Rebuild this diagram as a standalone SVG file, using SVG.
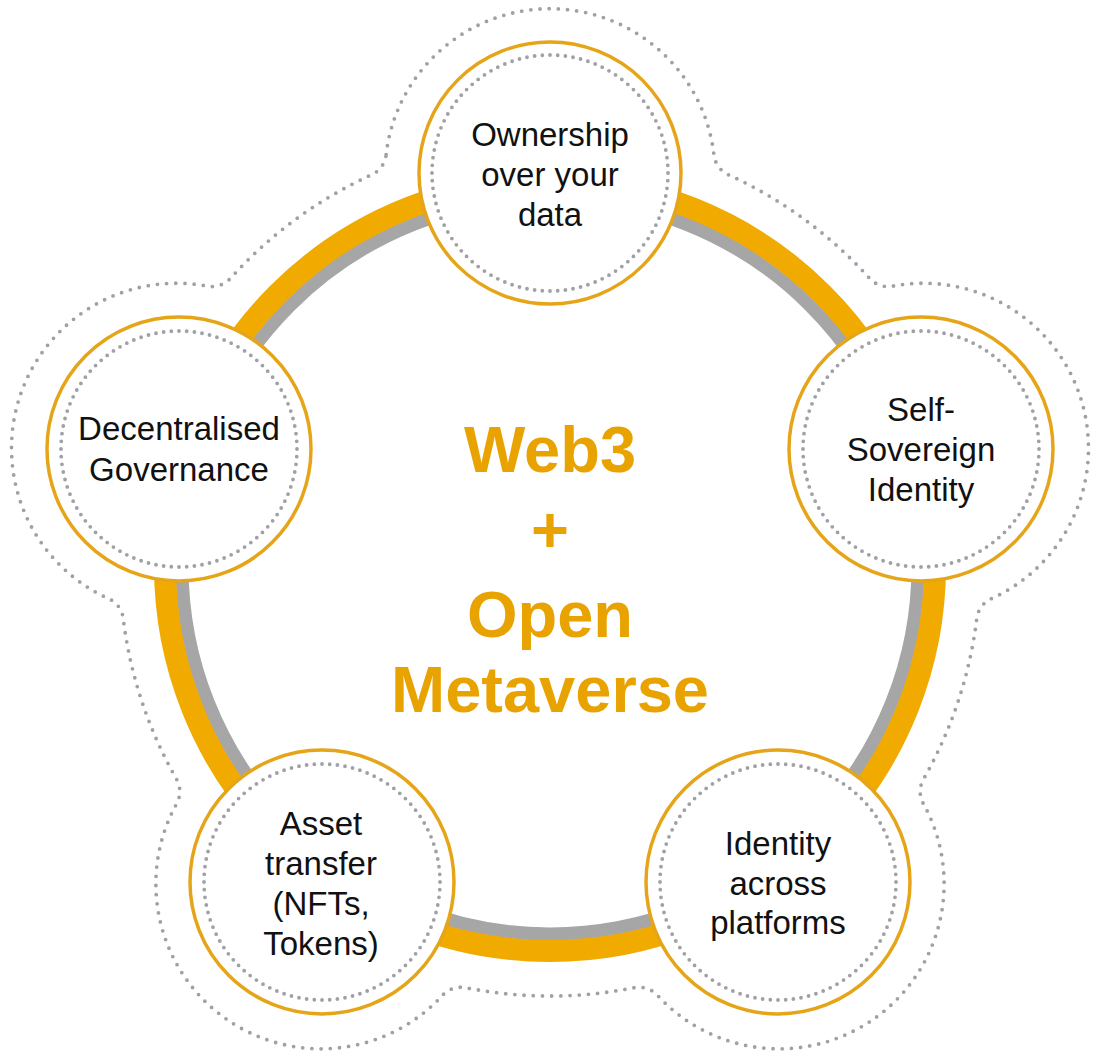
<svg xmlns="http://www.w3.org/2000/svg" width="1100" height="1058" viewBox="0 0 1100 1058">
<style>
.dots{fill:none;stroke:#A0A0A8;stroke-width:3.8;stroke-linecap:round;}
.node{fill:#FFFFFF;stroke:#E6A519;stroke-width:3.5;}
.lbl{font-family:"Liberation Sans",Arial,sans-serif;font-size:33px;fill:#111111;text-anchor:middle;}
.title{font-family:"Liberation Sans",Arial,sans-serif;font-size:65px;font-weight:bold;fill:#E9A300;text-anchor:middle;}
</style>
<rect width="1100" height="1058" fill="#FFFFFF"/>
<g id="outline">
<path class="dots" stroke-dasharray="0 9.2" d="M386.1 154.7 A165 165 0 0 1 713.9 154.7 A25 25 0 0 0 728.3 174.7 A430 430 0 0 1 869.5 278.3 A25 25 0 0 0 892.4 286.2 A165 165 0 0 1 991.0 598.8 A25 25 0 0 0 976.8 618.4 A430 430 0 0 1 923.5 779.1 A25 25 0 0 0 923.2 803.4 A165 165 0 0 1 657.3 995.1 A25 25 0 0 0 634.2 987.7 A430 430 0 0 1 465.8 987.7 A25 25 0 0 0 442.7 995.1 A165 165 0 0 1 176.8 803.4 A25 25 0 0 0 176.5 779.1 A430 430 0 0 1 123.2 618.4 A25 25 0 0 0 109.0 598.8 A165 165 0 0 1 207.6 286.2 A25 25 0 0 0 230.5 278.3 A430 430 0 0 1 371.7 174.7 A25 25 0 0 0 386.1 154.7 Z"/>
</g>
<g id="connectors">
<circle cx="550" cy="566" r="368" fill="none" stroke="#A6A6A6" stroke-width="13"/>
<circle cx="550" cy="566" r="385" fill="none" stroke="#F0AA00" stroke-width="22"/>
</g>
<g id="center">
<text class="title" x="550" y="472">Web3</text>
<text class="title" x="550" y="552">+</text>
<text class="title" x="550" y="637">Open</text>
<text class="title" x="550" y="712">Metaverse</text>
</g>
<g id="node-ownership">
<circle class="node" cx="550" cy="173" r="131"/>
<circle class="dots" cx="550" cy="173" r="118" pathLength="96" stroke-dasharray="0 1"/>
<text class="lbl" x="550" y="146">Ownership</text>
<text class="lbl" x="550" y="186">over your</text>
<text class="lbl" x="550" y="226">data</text>
</g>
<g id="node-ssi">
<circle class="node" cx="921" cy="449" r="132"/>
<circle class="dots" cx="921" cy="449" r="118" pathLength="96" stroke-dasharray="0 1"/>
<text class="lbl" x="921" y="421">Self-</text>
<text class="lbl" x="921" y="461">Sovereign</text>
<text class="lbl" x="921" y="501">Identity</text>
</g>
<g id="node-identity">
<circle class="node" cx="778" cy="882" r="132"/>
<circle class="dots" cx="778" cy="882" r="118" pathLength="96" stroke-dasharray="0 1"/>
<text class="lbl" x="778" y="855">Identity</text>
<text class="lbl" x="778" y="895">across</text>
<text class="lbl" x="778" y="934">platforms</text>
</g>
<g id="node-asset">
<circle class="node" cx="322" cy="882" r="132"/>
<circle class="dots" cx="322" cy="882" r="118" pathLength="96" stroke-dasharray="0 1"/>
<text class="lbl" x="321" y="835">Asset</text>
<text class="lbl" x="321" y="875">transfer</text>
<text class="lbl" x="321" y="915">(NFTs,</text>
<text class="lbl" x="321" y="955">Tokens)</text>
</g>
<g id="node-governance">
<circle class="node" cx="179" cy="449" r="132"/>
<circle class="dots" cx="179" cy="449" r="118" pathLength="96" stroke-dasharray="0 1"/>
<text class="lbl" x="179" y="440">Decentralised</text>
<text class="lbl" x="179" y="481">Governance</text>
</g>
</svg>
